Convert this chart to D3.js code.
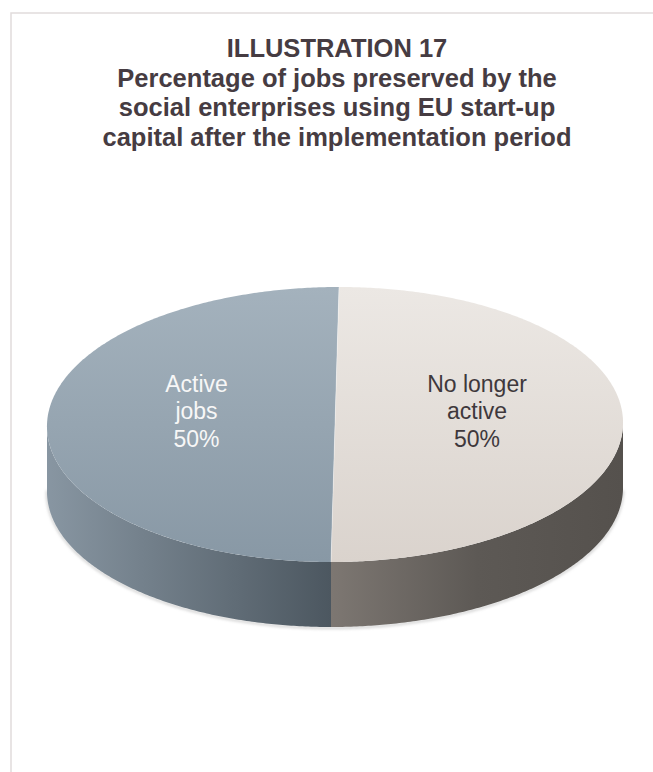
<!DOCTYPE html>
<html>
<head>
<meta charset="utf-8">
<script src="https://cdn.jsdelivr.net/npm/d3@7"></script>
<style>
  html, body { margin: 0; padding: 0; background: #ffffff; }
  svg { display: block; }
</style>
</head>
<body>
<div id="chart"></div>
<script>
// ---- data ----
const titleLines = [
  "ILLUSTRATION 17",
  "Percentage of jobs preserved by the",
  "social enterprises using EU start-up",
  "capital after the implementation period"
];
const categories = ["Active jobs", "No longer active"];
const values = [50, 50];
const labelLines = [["Active", "jobs"], ["No longer", "active"]];
const topColors = [["#a4b2bd", "#8898a5"], ["#ece8e4", "#dad3cd"]];
const sideColors = [["#8896a2", "#4c5760"], ["#7d7772", "#55514d"]];
const labelColors = ["#f7f7f7", "#3e383c"];

// ---- layout ----
const W = 653, H = 772;
const cx = 335, cy = 424.5, rx = 288, ry = 137.5, depth = 65, shear = 4;

const svg = d3.select("#chart").append("svg")
  .attr("width", W).attr("height", H);

// border of chart area
svg.append("rect")
  .attr("x", 11).attr("y", 13).attr("width", 700).attr("height", 800)
  .attr("fill", "none").attr("stroke", "#e1dcdc").attr("stroke-width", 1.5);

// title
const title = svg.append("text")
  .attr("text-anchor", "middle")
  .attr("font-family", "Liberation Sans, Arial, sans-serif")
  .attr("font-weight", "bold")
  .attr("font-size", 25.5)
  .attr("fill", "#463c42");
titleLines.forEach((t, i) => {
  title.append("tspan").attr("x", 337).attr("y", 57 + i * 29.5).text(t);
});

// pie
const pie = d3.pie().sort(null).startAngle(Math.PI).endAngle(3 * Math.PI);
const arcs = pie(values);

function pt(a, dy) {
  const s = Math.sin(a), c = Math.cos(a);
  return [cx + rx * s + shear * c, cy - ry * c + (dy || 0)];
}
function arcPts(a0, a1, dy) {
  const n = Math.max(2, Math.ceil(Math.abs(a1 - a0) / 0.01));
  return d3.range(n + 1).map(i => pt(a0 + (a1 - a0) * i / n, dy));
}

const defs = svg.append("defs");
arcs.forEach((d, i) => {
  const tg = defs.append("linearGradient").attr("id", "top" + i)
    .attr("gradientUnits", "userSpaceOnUse")
    .attr("x1", 0).attr("y1", cy - ry).attr("x2", 0).attr("y2", cy + ry);
  tg.append("stop").attr("offset", 0).attr("stop-color", topColors[i][0]);
  tg.append("stop").attr("offset", 1).attr("stop-color", topColors[i][1]);
});
// side gradients horizontal
const sg0 = defs.append("linearGradient").attr("id", "side0")
  .attr("gradientUnits", "userSpaceOnUse")
  .attr("x1", cx - rx).attr("y1", 0).attr("x2", cx - shear).attr("y2", 0);
sg0.append("stop").attr("offset", 0).attr("stop-color", sideColors[0][0]);
sg0.append("stop").attr("offset", 1).attr("stop-color", sideColors[0][1]);
const sg1 = defs.append("linearGradient").attr("id", "side1")
  .attr("gradientUnits", "userSpaceOnUse")
  .attr("x1", cx - shear).attr("y1", 0).attr("x2", cx + rx).attr("y2", 0);
sg1.append("stop").attr("offset", 0).attr("stop-color", sideColors[1][0]);
sg1.append("stop").attr("offset", 0.5).attr("stop-color", "#5d5955");
sg1.append("stop").attr("offset", 1).attr("stop-color", sideColors[1][1]);

const line = d3.line();

// soft shadow under pie
const f = defs.append("filter").attr("id", "blur").attr("x", "-10%").attr("y", "-10%").attr("width", "120%").attr("height", "130%");
f.append("feGaussianBlur").attr("stdDeviation", 1.5);
svg.append("path")
  .attr("d", line(arcPts(Math.PI / 2, 3 * Math.PI / 2, depth + 1)))
  .attr("fill", "none").attr("stroke", "#b8b8b8").attr("stroke-width", 1.5)
  .attr("filter", "url(#blur)");

// sides (front half only)
const norm = a => ((a % (2 * Math.PI)) + 2 * Math.PI) % (2 * Math.PI);
arcs.forEach((d, i) => {
  const lo = Math.PI / 2, hi = 3 * Math.PI / 2;
  const n0 = norm(d.startAngle), n1 = n0 + (d.endAngle - d.startAngle);
  const v0 = Math.max(n0, lo), v1 = Math.min(n1, hi);
  if (v1 <= v0) return;
  const topEdge = arcPts(v0, v1, 0);
  const botEdge = arcPts(v1, v0, depth);
  svg.append("path")
    .attr("d", line(topEdge.concat(botEdge)) + "Z")
    .attr("fill", "url(#side" + i + ")");
});

// tops
arcs.forEach((d, i) => {
  const pts = [[cx, cy]].concat(arcPts(d.startAngle, d.endAngle, 0));
  svg.append("path")
    .attr("d", line(pts) + "Z")
    .attr("fill", "url(#top" + i + ")");
});
// thin divider highlight
svg.append("path")
  .attr("d", line([pt(0, 0), pt(Math.PI, 0)]))
  .attr("stroke", "rgba(255,255,255,0.35)").attr("stroke-width", 1).attr("fill", "none");

// labels
const labelPos = [[196.5, 391.5], [477, 391.5]];
arcs.forEach((d, i) => {
  const t = svg.append("text")
    .attr("text-anchor", "middle")
    .attr("font-family", "Liberation Sans, Arial, sans-serif")
    .attr("font-size", 23)
    .attr("fill", labelColors[i]);
  const lines = labelLines[i].concat([Math.round(d.value / d3.sum(values) * 100) + "%"]);
  lines.forEach((s, j) => {
    t.append("tspan").attr("x", labelPos[i][0]).attr("y", labelPos[i][1] + j * 27.7).text(s);
  });
});
</script>
</body>
</html>
